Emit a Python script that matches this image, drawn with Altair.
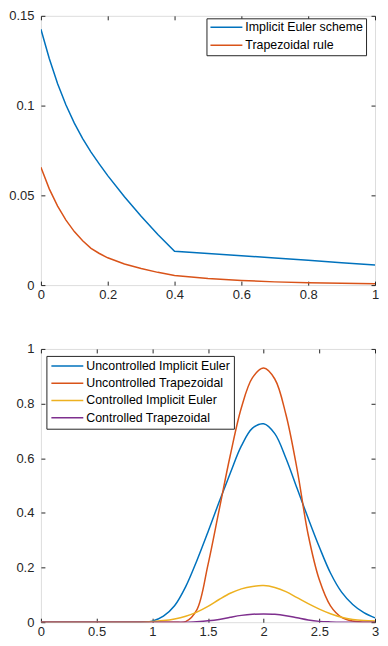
import altair as alt
import pandas as pd

# ---------------- data: top panel ----------------
top_x = [0, 0.025, 0.05, 0.075, 0.1, 0.125, 0.15, 0.175, 0.2, 0.25, 0.3, 0.35, 0.4,
         0.5, 0.6, 0.7, 0.8, 0.9, 1.0]
top_euler = [0.1425, 0.1262, 0.1122, 0.1003, 0.0902, 0.0816, 0.0741, 0.0674, 0.0610,
             0.0492, 0.0383, 0.0282, 0.0188, 0.0176, 0.0164, 0.0151, 0.0138, 0.0125,
             0.0112]
top_trap = [0.0656, 0.0536, 0.0440, 0.0362, 0.0298, 0.0247, 0.0205, 0.0176, 0.0152,
            0.0118, 0.0092, 0.0071, 0.0054, 0.0037, 0.0026, 0.0018, 0.0013, 0.001,
            0.0008]
top_names = ["Implicit Euler scheme", "Trapezoidal rule"]
top_colors = ["#0072BD", "#D95319"]
top_xticks = [0, 0.2, 0.4, 0.6, 0.8, 1]
top_yticks = [0, 0.05, 0.1, 0.15]

# ---------------- data: bottom panel ----------------
bot_x = [0, 0.1, 0.2, 0.3, 0.4, 0.5, 0.6, 0.7, 0.8, 0.9, 1.0, 1.1, 1.2, 1.3, 1.4, 1.5,
         1.6, 1.7, 1.8, 1.9, 2.0, 2.1, 2.2, 2.3, 2.4, 2.5, 2.6, 2.7, 2.8, 2.9, 3.0]
unc_euler = [0, 0, 0, 0, 0, 0, 0, 0, 0, 0, 0.004, 0.022, 0.06, 0.13, 0.225, 0.33,
             0.44, 0.545, 0.645, 0.71, 0.726, 0.69, 0.60, 0.49, 0.38, 0.275, 0.18,
             0.11, 0.065, 0.035, 0.016]
unc_trap = [0, 0, 0, 0, 0, 0, 0, 0, 0, 0, 0, 0, 0, 0.002, 0.045, 0.21, 0.41, 0.61, 0.785,
            0.895, 0.93, 0.89, 0.76, 0.56, 0.32, 0.155, 0.06, 0.018, 0.004, 0, 0]
con_euler = [0, 0, 0, 0, 0, 0, 0, 0, 0, 0, 0.003, 0.006, 0.012, 0.022, 0.037, 0.058,
             0.083, 0.106, 0.122, 0.131, 0.134, 0.127, 0.112, 0.09, 0.068, 0.048,
             0.031, 0.018, 0.01, 0.006, 0.004]
con_trap = [0, 0, 0, 0, 0, 0, 0, 0, 0, 0, 0, 0, 0, 0, 0.002, 0.005, 0.01, 0.018,
            0.025, 0.029, 0.03, 0.029, 0.024, 0.016, 0.008, 0.003, 0.001, 0, 0, 0, 0]
bot_names = ["Uncontrolled Implicit Euler", "Uncontrolled Trapezoidal",
             "Controlled Implicit Euler", "Controlled Trapezoidal"]
bot_colors = ["#0072BD", "#D95319", "#EDB120", "#7E2F8E"]
bot_xticks = [0, 0.5, 1, 1.5, 2, 2.5, 3]
bot_yticks = [0, 0.2, 0.4, 0.6, 0.8, 1]

FONT = "Liberation Sans"
AX = "#262626"
TICK = 4
LABEL_SIZE = 13
W = 335

top_df = pd.concat([
    pd.DataFrame({"x": top_x, "y": top_euler, "s": top_names[0]}),
    pd.DataFrame({"x": top_x, "y": top_trap, "s": top_names[1]}),
])
bot_df = pd.concat([
    pd.DataFrame({"x": bot_x, "y": ys, "s": n})
    for n, ys in zip(bot_names, [unc_euler, unc_trap, con_euler, con_trap])
])


def ax_main(orient, values, pad):
    return alt.Axis(orient=orient, values=values, format=".2~g", offset=-TICK,
                    tickSize=TICK, labelPadding=pad, domain=False, grid=False,
                    labelFlush=False, labelOverlap=False, title=None,
                    labelFont=FONT, labelFontSize=LABEL_SIZE, labelColor=AX,
                    tickColor=AX, tickWidth=1)


def ax_box(orient, values):
    return alt.Axis(orient=orient, values=values, labels=False, offset=-TICK,
                    tickSize=TICK, domain=False, grid=False, title=None,
                    tickColor=AX, tickWidth=1)


def panel(df, names, colors, xdom, ydom, xt, yt, w, h, legend, interp):
    xs = alt.Scale(domain=xdom, nice=False, zero=False)
    ys = alt.Scale(domain=ydom, nice=False, zero=False)
    lines = alt.Chart(df).mark_line(strokeWidth=1.5, clip=True, interpolate=interp).encode(
        x=alt.X("x:Q", scale=xs, axis=ax_main("bottom", xt, 3)),
        y=alt.Y("y:Q", scale=ys, axis=ax_main("left", yt, 7)),
        color=alt.Color("s:N", scale=alt.Scale(domain=names, range=colors), legend=legend),
    )
    box = alt.Chart(df).mark_point(opacity=0).encode(
        x=alt.X("x:Q", scale=xs, axis=ax_box("top", xt)),
        y=alt.Y("y:Q", scale=ys, axis=ax_box("right", yt)),
    )
    return alt.layer(lines, box).resolve_axis(x="independent", y="independent").properties(
        width=w, height=h)


def mk_legend(lx, ly, pad, row_pad):
    return alt.Legend(orient="none", legendX=lx, legendY=ly, title=None,
                      symbolType="stroke", symbolSize=1024, symbolStrokeWidth=1.5,
                      clipHeight=12, labelFontSize=12.4, labelFont=FONT,
                      labelColor="black", strokeColor=AX, fillColor="white",
                      padding=pad, rowPadding=row_pad, labelOffset=2,
                      cornerRadius=0, labelLimit=300)


top = panel(top_df, top_names, top_colors, [0, 1], [0, 0.15], top_xticks, top_yticks,
            W, 270, mk_legend(W - 169, 2.5, 3, 5), "linear")
bot = panel(bot_df, bot_names, bot_colors, [0, 3], [0, 1], bot_xticks, bot_yticks,
            W, 274, mk_legend(5.5, 7, 4, 4.3), "catmull-rom")

chart = alt.vconcat(top, bot, spacing=40).resolve_scale(color="independent").properties(
    padding={"left": 0, "top": 0, "right": 0, "bottom": 0}
).configure_view(stroke=AX, strokeWidth=1).configure(background="white")

chart.save("out.html", embed_options={"renderer": "svg", "actions": False})
